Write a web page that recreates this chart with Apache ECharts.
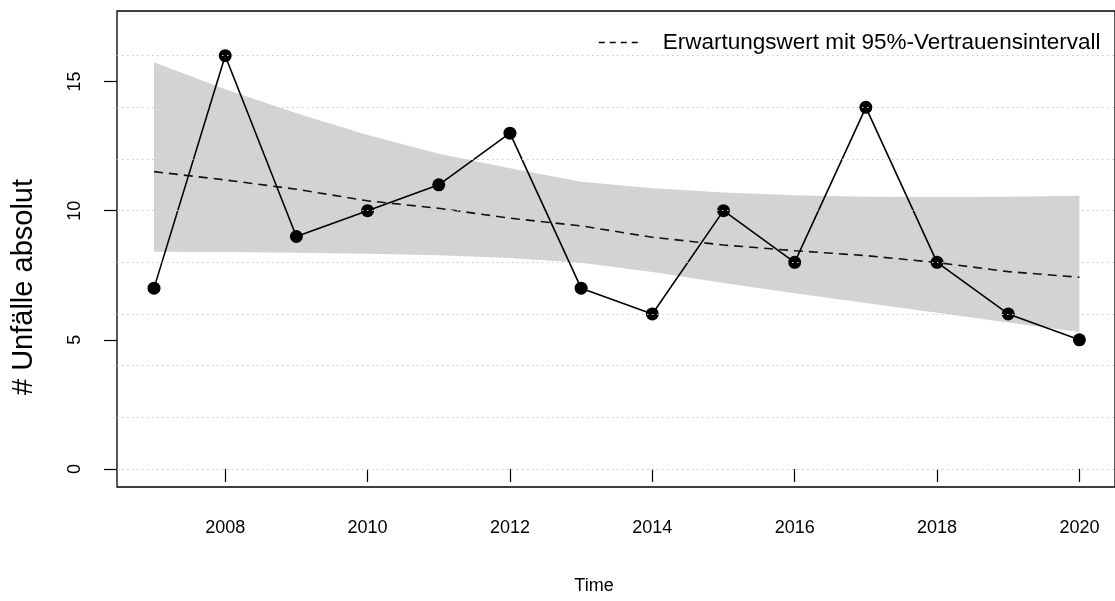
<!DOCTYPE html>
<html>
<head>
<meta charset="utf-8">
<script src="https://cdn.jsdelivr.net/npm/echarts@6/dist/echarts.min.js"></script>
<style>
  html, body { margin: 0; padding: 0; background: #fff; }
  #chart { width: 1115px; height: 601px; }
</style>
</head>
<body>
<div id="chart"></div>
<script>
// Jährliche Unfallzahlen mit geschätztem Erwartungswert und 95%-Band
const years = [2007, 2008, 2009, 2010, 2011, 2012, 2013, 2014, 2015, 2016, 2017, 2018, 2019, 2020];
const observed = [7, 16, 9, 10, 11, 13, 7, 6, 10, 8, 14, 8, 6, 5];
const expected = [11.51, 11.19, 10.83, 10.38, 10.09, 9.71, 9.41, 8.97, 8.67, 8.45, 8.26, 7.99, 7.64, 7.42];
const upper = [15.75, 14.70, 13.77, 12.93, 12.20, 11.64, 11.12, 10.87, 10.70, 10.60, 10.54, 10.53, 10.54, 10.58];
const lower = [8.41, 8.40, 8.37, 8.33, 8.27, 8.17, 7.98, 7.62, 7.20, 6.80, 6.42, 6.05, 5.67, 5.30];

const xTicks = [2008, 2010, 2012, 2014, 2016, 2018, 2020];
const yTicks = [0, 5, 10, 15];
const gridValues = [0, 2, 4, 6, 8, 10, 12, 14, 16];

const legendName = 'Erwartungswert mit 95%-Vertrauensintervall';
const FONT = "'Liberation Sans', Arial, Helvetica, sans-serif";

const pairs = (vals) => years.map((y, i) => [y, vals[i]]);

const chart = echarts.init(document.getElementById('chart'), null, { renderer: 'canvas' });

chart.setOption({
  animation: false,
  backgroundColor: '#ffffff',
  textStyle: { fontFamily: FONT },
  grid: {
    left: 117, right: 0, top: 11, bottom: 114,
    show: true, borderColor: '#000', borderWidth: 1.3, backgroundColor: 'transparent'
  },
  legend: {
    left: 598, top: 31, padding: 0,
    itemWidth: 42, itemHeight: 14,
    data: [legendName],
    itemStyle: { opacity: 0 },
    lineStyle: { color: '#000', width: 1.5, type: [6, 5] },
    textStyle: { fontFamily: FONT, fontSize: 22.5, color: '#000', padding: [0, 0, 0, 17] },
    selectedMode: false
  },
  xAxis: {
    type: 'value',
    min: 2006.48, max: 2020.5,
    name: 'Time', nameLocation: 'middle', nameGap: 90,
    nameTextStyle: { fontFamily: FONT, fontSize: 18, color: '#000', padding: [0, 44, 0, 0] },
    axisLine: { show: false },
    axisTick: { show: true, inside: false, length: 13, customValues: xTicks,
                lineStyle: { color: '#000', width: 1.2 } },
    axisLabel: { customValues: xTicks, margin: 32, fontFamily: FONT, fontSize: 18, color: '#000',
                 formatter: (v) => String(v) },
    splitLine: { show: false }
  },
  yAxis: {
    type: 'value',
    min: -0.7, max: 17.73,
    name: '# Unfälle absolut', nameLocation: 'middle', nameRotate: 90, nameGap: 79,
    nameTextStyle: { fontFamily: FONT, fontSize: 29, color: '#000', padding: [0, 76, 0, 0] },
    axisLine: { show: false },
    axisTick: { show: true, inside: false, length: 13, customValues: yTicks,
                lineStyle: { color: '#000', width: 1.2 } },
    axisLabel: { customValues: yTicks, rotate: 90, margin: 33, fontFamily: FONT, fontSize: 18, color: '#000' },
    splitLine: { show: false }
  },
  series: [
    {
      // dotted horizontal reference lines
      name: 'gitter', type: 'line', data: [], z: 1, silent: true,
      markLine: {
        silent: true, symbol: 'none', label: { show: false },
        lineStyle: { color: '#c8c8c8', width: 1.2, type: [1.5, 3.5] },
        data: gridValues.map(v => ({ yAxis: v }))
      }
    },
    {
      // 95%-Band as one polygon: upper bound forward, lower bound backward
      name: 'Band', type: 'custom', z: 2, silent: true,
      data: years.map((y, i) => [y, lower[i], upper[i]]),
      encode: { x: 0, y: [1, 2] },
      renderItem: (params, api) => {
        if (params.dataIndex !== 0) return null;
        const pts = [];
        for (let i = 0; i < years.length; i++) pts.push(api.coord([years[i], upper[i]]));
        for (let i = years.length - 1; i >= 0; i--) pts.push(api.coord([years[i], lower[i]]));
        return { type: 'polygon', shape: { points: pts }, style: { fill: '#d3d3d3', stroke: null } };
      }
    },
    {
      name: legendName, type: 'line', data: pairs(expected),
      symbol: 'none', z: 3,
      itemStyle: { color: '#111' },
      lineStyle: { color: '#111', width: 1.6, type: [9, 6] }
    },
    {
      name: 'beobachtet', type: 'line', data: pairs(observed),
      symbol: 'circle', symbolSize: 13, z: 4,
      itemStyle: { color: '#000', borderWidth: 0 },
      lineStyle: { color: '#000', width: 1.6 }
    }
  ]
});
</script>
</body>
</html>
